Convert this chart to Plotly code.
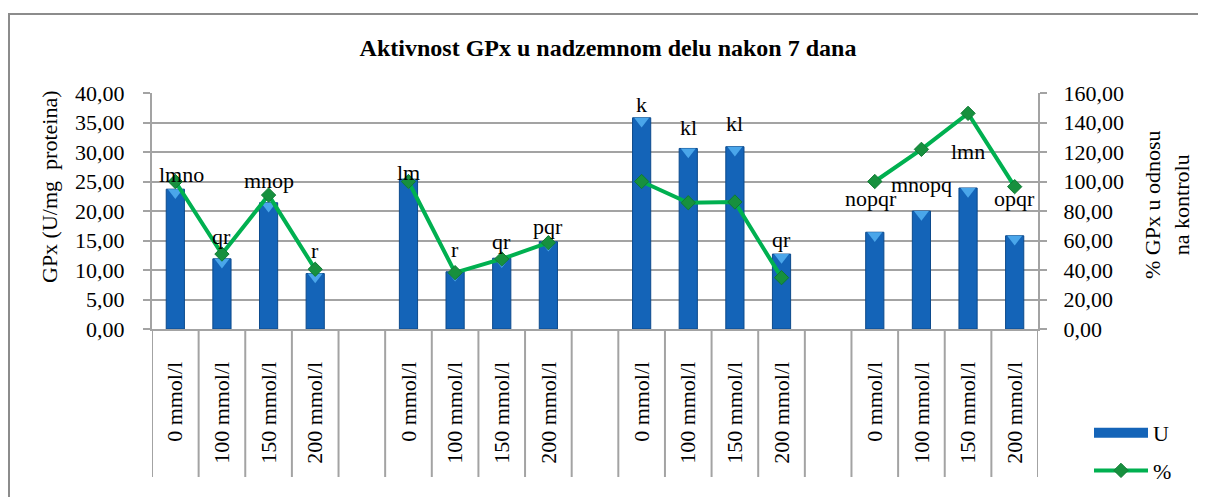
import plotly.graph_objects as go

# ---------------- data ----------------
doses = ["0 mmol/l", "100 mmol/l", "150 mmol/l", "200 mmol/l"]
n_groups = 4
u_values = [23.7, 11.9, 21.4, 9.4,
            25.4, 9.7, 12.0, 14.8,
            35.8, 30.6, 30.9, 12.7,
            16.4, 20.0, 23.9, 15.8]
pct_values = [100.0, 50.8, 90.8, 40.5,
              100.0, 38.2, 47.5, 58.5,
              100.0, 85.6, 86.1, 34.8,
              100.0, 121.8, 146.2, 96.5]
letters = ["lmno", "qr", "mnop", "r",
           "lm", "r", "qr", "pqr",
           "k", "kl", "kl", "qr",
           "nopqr", "mnopq", "lmn", "opqr"]
y_ticks_left = [0, 5, 10, 15, 20, 25, 30, 35, 40]
y_ticks_right = [0, 20, 40, 60, 80, 100, 120, 140, 160]

# ---------------- style ----------------
FONT = "Liberation Serif"
BAR_C = "#1464b8"
BAR_EDGE = "#0c4a8c"
BEVEL_C = "#4aa6ea"
LINE_C = "#00b050"
MARK_C = "#17903e"
GRID_C = "#a3a3a3"
label_yshift = [7.5, 18, 15, 19, 7, 22, 16.6, 15, 13, 21, 23, 15, -16.5, -35, -38, -12]
label_xshift = [6, 0, 0, 0, 0, 0, 0, 0, 0, 0, 0, 0, -4, 0, 0, 0]

# page offset (body margin of the html page)
OFF = 8
PL, PT, PW, PH = 152, 93, 886, 236   # plot area on screen


def px(sx):
    return (sx - PL) / PW


def py(sy):
    return (PT + PH - sy) / PH


slot = len(doses) + 1
n_slots = n_groups * slot - 1
x_pos = [g * slot + i for g in range(n_groups) for i in range(len(doses))]
tick_text = [d for g in range(n_groups) for d in doses]

left_max = y_ticks_left[-1]
right_max = y_ticks_right[-1]
ratio = left_max / right_max

# line with gaps between groups
line_x, line_y = [], []
for g in range(n_groups):
    for i in range(len(doses)):
        k = g * len(doses) + i
        line_x.append(x_pos[k])
        line_y.append(pct_values[k])
    if g < n_groups - 1:
        line_x.append(g * slot + len(doses))
        line_y.append(None)

fig = go.Figure()
fig.add_trace(go.Bar(
    x=x_pos, y=u_values, name="U", width=0.39, showlegend=False,
    marker=dict(color=BAR_C, line=dict(color=BAR_EDGE, width=1)),
    yaxis="y",
))
# top bevel highlight of the bars
fig.add_trace(go.Scatter(
    x=x_pos, y=[v - 0.55 for v in u_values], mode="markers",
    marker=dict(symbol="triangle-down", size=13, color=BEVEL_C, line=dict(width=0)),
    showlegend=False, hoverinfo="skip", yaxis="y",
))
# legend entry for the bars (wide bar swatch)
fig.add_trace(go.Scatter(
    x=[None], y=[None], name="U", mode="lines", legendgroup="u",
    line=dict(color=BAR_C, width=12), yaxis="y",
))
fig.add_trace(go.Scatter(
    x=line_x, y=line_y, name="%", mode="lines+markers", connectgaps=False, legendgroup="p",
    line=dict(color=LINE_C, width=4),
    marker=dict(symbol="diamond", size=11, color=MARK_C, line=dict(color="#0f7a33", width=1)),
    yaxis="y2",
))

# data labels (letters)
for k, txt in enumerate(letters):
    anchor = max(u_values[k], pct_values[k] * ratio)
    fig.add_annotation(
        x=x_pos[k], y=anchor, xref="x", yref="y", text=txt, showarrow=False,
        xanchor="center", yanchor="middle",
        xshift=label_xshift[k], yshift=label_yshift[k],
        font=dict(family=FONT, size=22, color="black"),
    )

# category separator lines below the axis
sep_depth = -148 / PH
shapes = []
for b in range(n_slots + 1):
    shapes.append(dict(type="line", xref="x", yref="paper",
                       x0=b - 0.5, x1=b - 0.5, y0=0, y1=sep_depth,
                       line=dict(color=GRID_C, width=2)))
# chart border
shapes.append(dict(type="rect", xref="paper", yref="paper",
                   x0=px(9), x1=px(1225), y0=py(520), y1=py(14),
                   line=dict(color="#8c8c8c", width=2), fillcolor="rgba(0,0,0,0)", layer="below"))

# axis titles
fig.add_annotation(x=px(49), y=py(187), xref="paper", yref="paper",
                   text="GPx (U/mg  proteina)", textangle=-90, showarrow=False,
                   xanchor="center", yanchor="middle",
                   font=dict(family=FONT, size=22, color="black"))
fig.add_annotation(x=px(1167), y=py(205), xref="paper", yref="paper",
                   text="% GPx u odnosu<br>na kontrolu", textangle=-90, showarrow=False,
                   xanchor="center", yanchor="middle",
                   font=dict(family=FONT, size=22, color="black"))

W, H = 1206, 497
fig.update_layout(
    width=W, height=H,
    margin=dict(l=PL - OFF, r=W - (PL + PW - OFF), t=PT - OFF, b=H - (PT + PH - OFF), autoexpand=False),
    paper_bgcolor="white", plot_bgcolor="white",
    separators=",.",
    font=dict(family=FONT, size=22, color="black"),
    title=dict(text="<b>Aktivnost GPx u nadzemnom delu nakon 7 dana</b>",
               x=(608 - OFF) / W, xref="container", xanchor="center",
               y=1 - (48 - OFF) / H, yref="container", yanchor="middle",
               font=dict(family=FONT, size=24, color="black")),
    xaxis=dict(range=[-0.5, n_slots - 0.5], tickmode="array", tickvals=x_pos, ticktext=tick_text,
               tickangle=-90, ticks="", showgrid=False, zeroline=False,
               showline=True, linecolor=GRID_C, linewidth=2,
               ticklabelstandoff=22, automargin=False,
               tickfont=dict(family=FONT, size=22, color="black")),
    yaxis=dict(range=[0, left_max], tickmode="array", tickvals=y_ticks_left, tickformat=".2f",
               showgrid=True, gridcolor=GRID_C, gridwidth=2, zeroline=False,
               showline=True, linecolor=GRID_C, linewidth=2,
               ticks="outside", ticklen=7, tickcolor=GRID_C, tickwidth=2,
               ticklabelstandoff=14, automargin=False,
               tickfont=dict(family=FONT, size=22, color="black")),
    yaxis2=dict(range=[0, right_max], tickmode="array", tickvals=y_ticks_right, tickformat=".2f",
                overlaying="y", side="right", showgrid=False, zeroline=False,
                showline=True, linecolor=GRID_C, linewidth=2,
                ticks="outside", ticklen=7, tickcolor=GRID_C, tickwidth=2,
                ticklabelstandoff=12, automargin=False,
                tickfont=dict(family=FONT, size=22, color="black")),
    legend=dict(x=px(1089), y=py(412), xanchor="left", yanchor="top",
                xref="paper", yref="paper", itemwidth=54,
                font=dict(family=FONT, size=22, color="black"),
                bgcolor="rgba(0,0,0,0)", tracegroupgap=6),
    shapes=shapes,
)

fig.write_html("out.html")
